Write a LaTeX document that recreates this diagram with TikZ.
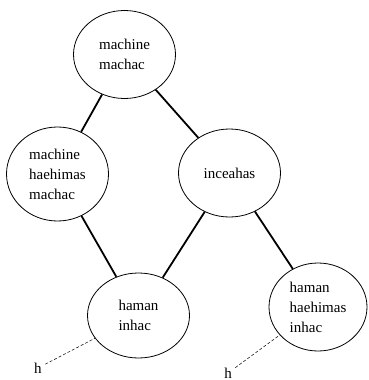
\documentclass[tikz,border=0pt]{standalone}
\usepackage{fontspec}
\setmainfont{Liberation Serif}
\usetikzlibrary{shapes.geometric}
\tikzset{state/.style = {ellipse, draw, line width=0.8pt, inner sep=0pt, minimum width=102pt, minimum height=88pt, align=left, font=\fontsize{15}{20}\selectfont}}
\tikzset{link/.style = {line width=1.8pt}}
\tikzset{hint/.style = {line width=0.5pt, dash pattern=on 3pt off 2pt}}

\begin{document}
\begin{tikzpicture}[x=1pt, y=-1pt]
\useasboundingbox (0,0) rectangle (368,380);
\node [state] (m) at (124.5,54.5) {machine\\machac};
\node [state, minimum height=94pt] (mh) at (57.5,174) {machine\\haehimas\\machac};
\node [state] (i) at (229.5,173) {inceahas};
\node [state, minimum height=85pt] (hi) at (138.5,315.5) {haman\\inhac};
\node [state, minimum width=98pt] (hhi) at (318,307) {haman\\haehimas\\inhac};
\node [font=\fontsize{15}{20}\selectfont] (hl) at (38,368) {h};
\node [font=\fontsize{15}{20}\selectfont] (hr) at (228,373) {h};
\draw [link] (m) -- (mh);
\draw [link] (m) -- (i);
\draw [link] (mh) -- (hi);
\draw [link] (i) -- (hi);
\draw [link] (i) -- (hhi);
\draw [hint] (hl) -- (hi);
\draw [hint] (hr) -- (hhi);
\end{tikzpicture}
\end{document}
